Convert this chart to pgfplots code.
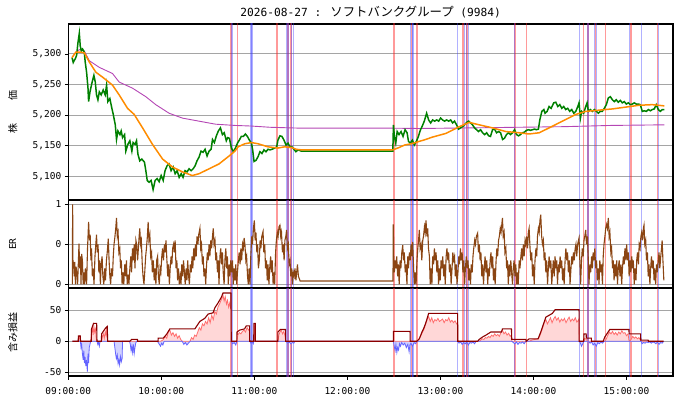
\documentclass[border=0pt]{standalone}
\usepackage{fontspec}
\setmainfont{DejaVu Sans Mono}
\setmonofont{DejaVu Sans Mono}
\newfontfamily\cjk{Noto Sans CJK JP}
\usepackage{pgfplots}
\pgfplotsset{compat=1.18}
\usepackage{pgfplotstable}

\definecolor{pgreen}{RGB}{0,128,0}
\definecolor{porange}{RGB}{255,140,0}
\definecolor{ppurple}{RGB}{180,70,180}
\definecolor{erbrown}{RGB}{139,69,19}
\definecolor{dred}{RGB}{139,0,0}
\definecolor{lred}{RGB}{255,110,110}
\definecolor{lpink}{RGB}{255,215,215}
\definecolor{lblue}{RGB}{100,100,255}
\definecolor{lbluefill}{RGB}{210,210,255}
\definecolor{gridgray}{RGB}{165,165,165}
\definecolor{vred}{RGB}{255,30,30}
\definecolor{vblue}{RGB}{60,60,255}

\pgfplotstableread[row sep=\\]{
t p\\
2.4 5294\\ 3.2 5286\\ 4.0 5290\\ 4.5 5292\\ 5.4 5298\\ 6.2 5318\\ 7.1 5334\\ 7.7 5313\\ 8.4 5305\\ 9.2 5308\\
10.3 5303\\ 10.9 5287\\ 11.8 5270\\ 12.7 5244\\ 13.1 5222\\ 14.0 5238\\ 15.2 5252\\ 16.5 5265\\ 17.4 5254\\ 18.2 5233\\
19.1 5225\\ 20.0 5238\\ 21.2 5233\\ 22.5 5241\\ 23.8 5233\\ 24.7 5249\\ 25.5 5222\\ 26.8 5227\\ 28.1 5211\\ 29.0 5201\\
30.3 5184\\ 31.1 5160\\ 32.0 5174\\ 33.3 5168\\ 34.1 5174\\ 35.0 5163\\ 36.3 5168\\ 37.1 5141\\ 38.4 5152\\ 39.7 5158\\
41.0 5141\\ 41.8 5155\\ 43.1 5152\\ 44.0 5158\\ 44.9 5136\\ 46.1 5125\\ 47.4 5128\\ 49.1 5123\\ 50.0 5109\\ 50.9 5093\\
52.1 5090\\ 53.4 5093\\ 54.7 5078\\ 56.0 5093\\ 57.3 5096\\ 58.6 5091\\ 59.9 5101\\ 61.2 5093\\ 62.4 5109\\ 63.7 5117\\
65.0 5120\\ 66.3 5109\\ 67.6 5115\\ 68.9 5104\\ 70.2 5109\\ 71.5 5098\\ 72.8 5104\\ 74.0 5098\\ 75.3 5109\\ 76.6 5107\\
77.9 5112\\ 79.2 5109\\ 80.5 5112\\ 81.8 5117\\ 83.0 5125\\ 84.3 5131\\ 85.6 5141\\ 86.9 5139\\ 88.2 5144\\ 89.5 5133\\
90.8 5141\\ 92.1 5144\\ 93.0 5160\\ 94.2 5155\\ 95.5 5166\\ 96.8 5174\\ 98.1 5179\\ 99.4 5168\\ 100.6 5171\\ 101.9 5158\\
102.8 5163\\ 103.9 5162\\ 105.2 5146\\ 106.5 5140\\ 107.8 5146\\ 109.1 5154\\ 110.3 5159\\ 111.6 5165\\ 112.9 5165\\ 114.2 5169\\
115.5 5165\\ 116.8 5159\\ 118.1 5154\\ 118.9 5143\\ 119.8 5124\\ 121.1 5126\\ 122.4 5132\\ 123.6 5140\\ 124.9 5137\\ 126.2 5143\\
127.5 5140\\ 128.8 5144\\ 130.1 5143\\ 131.4 5144\\ 133.1 5146\\ 134.4 5148\\ 135.2 5159\\ 136.5 5166\\ 137.8 5165\\ 139.1 5159\\
140.4 5151\\ 141.7 5154\\ 143.0 5148\\ 144.2 5148\\ 145.5 5144\\ 146.8 5140\\ 148.1 5143\\ 150.3 5141\\ 209.3 5141\\ 209.7 5184\\
210.3 5165\\ 211.2 5154\\ 212.1 5173\\ 213.3 5168\\ 214.6 5173\\ 215.9 5165\\ 217.2 5176\\ 218.5 5171\\ 219.4 5157\\ 220.6 5154\\
221.9 5159\\ 223.2 5151\\ 224.5 5157\\ 225.8 5165\\ 227.0 5175\\ 228.3 5182\\ 229.6 5190\\ 231.1 5203\\ 232.4 5192\\ 233.7 5187\\
235.0 5192\\ 236.3 5190\\ 237.6 5192\\ 238.9 5190\\ 240.1 5195\\ 241.4 5192\\ 242.7 5190\\ 244.0 5192\\ 245.3 5190\\ 246.6 5192\\
247.9 5187\\ 249.1 5190\\ 250.4 5184\\ 251.7 5177\\ 253.0 5179\\ 254.3 5181\\ 255.6 5184\\ 256.9 5188\\ 258.2 5190\\ 259.4 5187\\
260.7 5184\\ 262.0 5179\\ 263.3 5176\\ 264.6 5173\\ 265.9 5176\\ 267.2 5171\\ 268.5 5168\\ 269.8 5171\\ 271.1 5166\\ 272.3 5165\\
273.6 5176\\ 274.9 5177\\ 276.2 5171\\ 277.5 5173\\ 278.8 5171\\ 280.1 5160\\ 281.3 5162\\ 282.6 5168\\ 283.9 5171\\ 285.2 5168\\
286.5 5171\\ 287.8 5176\\ 289.1 5168\\ 290.4 5166\\ 291.6 5168\\ 292.9 5171\\ 294.2 5172\\ 295.5 5175\\ 296.8 5176\\ 298.1 5175\\
299.4 5176\\ 300.7 5177\\ 301.9 5176\\ 303.2 5177\\ 304.1 5192\\ 305.4 5206\\ 306.7 5209\\ 307.5 5203\\ 308.8 5206\\ 310.1 5214\\
311.4 5211\\ 313.1 5220\\ 314.4 5221\\ 315.7 5214\\ 317.0 5217\\ 318.3 5211\\ 319.5 5214\\ 320.8 5209\\ 322.1 5211\\ 323.4 5206\\
324.7 5209\\ 326.0 5203\\ 327.3 5206\\ 328.6 5214\\ 329.4 5220\\ 330.3 5195\\ 331.1 5206\\ 332.4 5203\\ 333.7 5214\\ 334.6 5220\\
335.4 5206\\ 336.7 5209\\ 338.0 5206\\ 339.3 5209\\ 340.6 5206\\ 341.9 5203\\ 343.1 5206\\ 344.4 5206\\ 345.7 5211\\ 347.0 5217\\
348.3 5228\\ 349.6 5230\\ 350.9 5225\\ 352.2 5222\\ 353.4 5225\\ 354.7 5221\\ 356.0 5224\\ 357.3 5220\\ 358.6 5222\\ 359.9 5218\\
361.2 5220\\ 362.5 5217\\ 363.8 5218\\ 365.0 5220\\ 366.3 5218\\ 367.6 5218\\ 368.9 5217\\ 370.2 5206\\ 371.5 5207\\ 372.8 5206\\
374.1 5209\\ 375.4 5207\\ 376.6 5209\\ 377.9 5210\\ 379.2 5217\\ 380.5 5209\\ 381.8 5206\\ 383.1 5209\\ 384.4 5209\\
}\price

\pgfplotstableread[row sep=\\]{
t p\\
2.4 5294\\ 4.9 5303\\ 7.5 5303\\ 10.3 5302\\ 13.5 5287\\ 17.8 5270\\ 22.1 5262\\ 28.5 5249\\ 32.8 5233\\ 38.2 5211\\
42.5 5201\\ 47.9 5179\\ 54.3 5152\\ 60.8 5128\\ 67.2 5115\\ 73.6 5107\\ 80.0 5101\\ 84.3 5104\\ 90.8 5112\\ 97.2 5120\\
103.7 5133\\ 107.5 5141\\ 109.5 5148\\ 113.8 5153\\ 118.1 5155\\ 122.4 5153\\ 128.8 5148\\ 135.2 5146\\ 139.5 5148\\ 143.8 5147\\
147.0 5144\\ 150.3 5143\\ 209.3 5143\\ 212.5 5146\\ 217.0 5151\\ 221.1 5153\\ 224.0 5155\\ 226.4 5157\\ 229.2 5159\\ 235.0 5164\\
243.6 5170\\ 252.2 5181\\ 258.6 5188\\ 265.0 5184\\ 273.6 5179\\ 282.2 5173\\ 290.8 5171\\ 297.2 5169\\ 303.7 5171\\ 310.1 5179\\
318.7 5190\\ 327.3 5201\\ 333.7 5206\\ 342.3 5208\\ 350.9 5210\\ 359.5 5213\\ 368.1 5216\\ 376.6 5217\\ 384.4 5215\\
}\ema

\pgfplotstableread[row sep=\\]{
t p\\
2.4 5294\\ 4.9 5303\\ 7.1 5307\\ 10.3 5305\\ 13.5 5289\\ 20.0 5278\\ 28.5 5268\\ 32.8 5254\\ 41.4 5244\\ 50.0 5230\\
56.4 5217\\ 65.0 5203\\ 73.6 5195\\ 84.3 5190\\ 95.1 5185\\ 107.5 5183\\ 118.1 5182\\ 130.0 5180\\ 150.3 5178.5\\ 209.3 5178.5\\
226.4 5178\\ 260.0 5179\\ 290.0 5180\\ 320.0 5181\\ 350.0 5183\\ 384.4 5184\\
}\vwap

\pgfplotstableread[row sep=\\]{
t e\\
2.6 0.0\\ 2.8 1.0\\ 3.0 0.3\\ 3.4 0.25\\ 3.8 0.1\\ 4.2 0.28\\ 4.6 0.0\\ 5.0 0.22\\ 5.5 0.15\\ 6.0 0.0\\
6.9 0.51\\ 7.3 0.2\\ 7.8 0.35\\ 8.2 0.0\\ 8.6 0.38\\ 9.1 0.3\\ 9.6 0.0\\ 10.0 0.15\\ 10.5 0.0\\ 11.0 0.2\\
11.8 0.0\\ 12.4 0.45\\ 13.1 0.78\\ 13.6 0.55\\ 14.1 0.62\\ 14.6 0.3\\ 15.0 0.45\\ 15.5 0.1\\ 16.0 0.2\\ 16.6 0.0\\
17.2 0.35\\ 18.2 0.62\\ 18.7 0.4\\ 19.2 0.5\\ 19.7 0.15\\ 20.2 0.3\\ 20.7 0.0\\ 21.2 0.25\\ 21.8 0.35\\ 22.3 0.1\\
22.9 0.0\\ 23.5 0.2\\ 24.0 0.05\\ 24.6 0.3\\ 25.2 0.42\\ 25.8 0.57\\ 26.3 0.3\\ 26.8 0.1\\ 27.3 0.0\\ 27.9 0.2\\
28.5 0.1\\ 29.0 0.35\\ 29.5 0.5\\ 30.1 0.6\\ 30.6 0.7\\ 31.1 0.83\\ 31.6 0.6\\ 32.1 0.65\\ 32.6 0.4\\ 33.2 0.45\\
33.7 0.2\\ 34.2 0.3\\ 34.7 0.0\\ 35.3 0.15\\ 35.8 0.0\\ 36.4 0.25\\ 37.0 0.1\\ 37.5 0.3\\ 38.0 0.0\\ 38.6 0.12\\
39.1 0.0\\ 39.7 0.2\\ 40.3 0.35\\ 40.8 0.15\\ 41.4 0.45\\ 42.0 0.3\\ 42.5 0.5\\ 43.0 0.2\\ 43.6 0.55\\ 44.1 0.5\\
44.7 0.3\\ 45.2 0.45\\ 45.7 0.6\\ 46.1 0.7\\ 46.6 0.5\\ 47.1 0.55\\ 47.7 0.25\\ 48.2 0.1\\ 48.8 0.0\\ 49.3 0.15\\
49.9 0.35\\ 50.4 0.45\\ 51.0 0.6\\ 51.5 0.78\\ 52.0 0.55\\ 52.6 0.62\\ 53.1 0.35\\ 53.7 0.4\\ 54.2 0.15\\ 54.8 0.3\\
55.4 0.05\\ 55.9 0.2\\ 56.5 0.0\\ 57.0 0.3\\ 57.6 0.35\\ 58.1 0.1\\ 58.7 0.0\\ 59.2 0.2\\ 59.7 0.15\\ 60.3 0.35\\
60.8 0.45\\ 61.4 0.3\\ 62.0 0.5\\ 62.5 0.4\\ 63.0 0.55\\ 63.6 0.3\\ 64.1 0.1\\ 64.6 0.25\\ 65.2 0.0\\ 65.7 0.2\\
66.3 0.35\\ 66.8 0.25\\ 67.3 0.45\\ 67.9 0.5\\ 68.4 0.4\\ 68.9 0.55\\ 69.5 0.2\\ 70.0 0.3\\ 70.5 0.05\\ 71.1 0.2\\
71.6 0.0\\ 72.2 0.1\\ 72.7 0.0\\ 73.2 0.25\\ 73.8 0.1\\ 74.3 0.3\\ 74.9 0.15\\ 75.4 0.0\\ 76.0 0.2\\ 76.5 0.05\\
77.0 0.3\\ 77.6 0.1\\ 78.1 0.0\\ 78.7 0.25\\ 79.3 0.15\\ 79.8 0.35\\ 80.3 0.2\\ 80.9 0.45\\ 81.4 0.3\\ 82.0 0.5\\
82.5 0.35\\ 83.0 0.6\\ 83.6 0.5\\ 84.1 0.62\\ 84.9 0.7\\ 85.4 0.45\\ 85.9 0.5\\ 86.5 0.25\\ 87.0 0.35\\ 87.5 0.1\\
88.1 0.2\\ 88.6 0.0\\ 89.2 0.25\\ 89.7 0.4\\ 90.2 0.3\\ 90.8 0.5\\ 91.3 0.35\\ 91.9 0.55\\ 92.4 0.45\\ 93.0 0.6\\
93.5 0.7\\ 94.0 0.5\\ 94.6 0.55\\ 95.1 0.3\\ 95.6 0.4\\ 96.2 0.15\\ 96.7 0.3\\ 97.2 0.0\\ 97.8 0.35\\ 98.3 0.45\\
98.9 0.25\\ 99.4 0.4\\ 99.9 0.15\\ 100.5 0.0\\ 101.0 0.3\\ 101.6 0.45\\ 102.1 0.2\\ 102.6 0.35\\ 103.2 0.0\\ 103.7 0.25\\
104.2 0.1\\ 104.8 0.3\\ 105.3 0.15\\ 105.9 0.3\\ 106.4 0.0\\ 107.0 0.2\\ 107.5 0.05\\ 108.0 0.25\\ 108.6 0.0\\ 109.1 0.15\\
109.7 0.3\\ 110.2 0.4\\ 110.8 0.25\\ 111.3 0.45\\ 111.8 0.3\\ 112.4 0.5\\ 112.9 0.45\\ 113.4 0.58\\ 113.9 0.5\\ 114.5 0.3\\
115.0 0.35\\ 115.6 0.1\\ 116.1 0.0\\ 116.6 0.2\\ 117.2 0.0\\ 117.7 0.35\\ 118.3 0.6\\ 118.8 0.5\\ 119.4 0.7\\ 120.0 0.8\\
120.5 0.55\\ 121.0 0.65\\ 121.6 0.4\\ 122.1 0.5\\ 122.6 0.2\\ 123.2 0.3\\ 123.7 0.55\\ 124.2 0.45\\ 124.8 0.6\\ 125.6 0.66\\
126.1 0.4\\ 126.7 0.5\\ 127.2 0.2\\ 127.8 0.3\\ 128.3 0.05\\ 128.8 0.25\\ 129.4 0.0\\ 129.9 0.2\\ 130.5 0.35\\ 131.0 0.15\\
131.5 0.3\\ 132.1 0.0\\ 132.6 0.15\\ 133.1 0.0\\ 133.7 0.4\\ 134.2 0.55\\ 134.8 0.65\\ 135.3 0.6\\ 135.9 0.72\\ 136.5 0.74\\
137.0 0.6\\ 137.5 0.65\\ 138.1 0.4\\ 138.6 0.5\\ 139.2 0.3\\ 139.7 0.55\\ 140.3 0.6\\ 140.8 0.68\\ 141.3 0.45\\ 141.9 0.5\\
142.4 0.25\\ 143.0 0.3\\ 143.5 0.1\\ 144.0 0.2\\ 144.6 0.0\\ 145.1 0.15\\ 145.7 0.1\\ 146.2 0.2\\ 146.8 0.05\\ 147.3 0.15\\
147.8 0.25\\ 148.4 0.1\\ 149.0 0.07\\ 149.5 0.042\\ 209.4 0.042\\ 209.6 0.75\\ 209.9 0.3\\ 210.3 0.15\\ 210.8 0.3\\ 211.3 0.2\\
211.8 0.35\\ 212.4 0.1\\ 212.9 0.25\\ 213.4 0.0\\ 214.0 0.3\\ 214.5 0.2\\ 215.1 0.4\\ 215.7 0.49\\ 216.2 0.3\\ 216.7 0.4\\
217.3 0.15\\ 217.8 0.25\\ 218.4 0.0\\ 218.9 0.35\\ 219.4 0.2\\ 220.0 0.4\\ 220.5 0.3\\ 221.1 0.5\\ 221.6 0.35\\ 222.1 0.53\\
222.7 0.2\\ 223.2 0.0\\ 223.8 0.15\\ 224.3 0.0\\ 224.9 0.3\\ 225.4 0.45\\ 225.9 0.55\\ 226.4 0.68\\ 226.9 0.45\\ 227.5 0.5\\
228.0 0.3\\ 228.6 0.55\\ 229.1 0.6\\ 229.7 0.72\\ 230.2 0.65\\ 230.7 0.8\\ 231.3 0.6\\ 231.8 0.7\\ 232.3 0.45\\ 232.9 0.35\\
233.4 0.0\\ 234.0 0.2\\ 234.5 0.0\\ 235.0 0.35\\ 235.6 0.25\\ 236.1 0.45\\ 236.7 0.3\\ 237.2 0.4\\ 237.7 0.15\\ 238.3 0.3\\
238.8 0.0\\ 239.4 0.2\\ 239.9 0.05\\ 240.4 0.3\\ 241.0 0.2\\ 241.5 0.35\\ 242.1 0.1\\ 242.6 0.25\\ 243.1 0.0\\ 243.7 0.35\\
244.2 0.45\\ 244.8 0.3\\ 245.3 0.4\\ 245.8 0.15\\ 246.4 0.25\\ 246.9 0.0\\ 247.5 0.2\\ 248.0 0.4\\ 248.5 0.3\\ 249.1 0.35\\
249.6 0.1\\ 250.2 0.25\\ 250.7 0.0\\ 251.3 0.15\\ 251.8 0.35\\ 252.3 0.25\\ 252.9 0.45\\ 253.4 0.3\\ 254.0 0.4\\ 254.5 0.15\\
255.0 0.3\\ 255.6 0.0\\ 256.1 0.2\\ 256.7 0.35\\ 257.2 0.2\\ 257.8 0.3\\ 258.3 0.05\\ 258.8 0.2\\ 259.4 0.0\\ 259.9 0.25\\
260.5 0.15\\ 261.0 0.35\\ 261.5 0.45\\ 262.1 0.55\\ 262.6 0.5\\ 263.2 0.6\\ 264.0 0.64\\ 264.5 0.4\\ 265.1 0.5\\ 265.6 0.3\\
266.1 0.4\\ 266.7 0.1\\ 267.2 0.25\\ 267.8 0.0\\ 268.3 0.2\\ 268.8 0.35\\ 269.4 0.15\\ 269.9 0.3\\ 270.5 0.0\\ 271.0 0.2\\
271.5 0.1\\ 272.1 0.3\\ 272.6 0.4\\ 273.2 0.2\\ 273.7 0.35\\ 274.2 0.05\\ 274.8 0.2\\ 275.3 0.0\\ 275.9 0.3\\ 276.4 0.45\\
276.9 0.35\\ 277.5 0.55\\ 278.0 0.6\\ 278.6 0.7\\ 279.1 0.65\\ 279.6 0.75\\ 280.0 0.83\\ 280.5 0.6\\ 281.1 0.65\\ 281.6 0.4\\
282.2 0.45\\ 282.7 0.2\\ 283.2 0.3\\ 283.8 0.0\\ 284.3 0.25\\ 284.8 0.1\\ 285.4 0.3\\ 285.9 0.15\\ 286.5 0.0\\ 287.0 0.2\\
287.5 0.3\\ 288.1 0.1\\ 288.6 0.25\\ 289.2 0.0\\ 289.7 0.15\\ 290.2 0.0\\ 290.8 0.3\\ 291.3 0.2\\ 291.9 0.35\\ 292.4 0.45\\
292.9 0.3\\ 293.5 0.5\\ 294.0 0.35\\ 294.6 0.55\\ 295.1 0.5\\ 295.6 0.6\\ 296.2 0.45\\ 296.7 0.65\\ 297.2 0.7\\ 297.8 0.45\\
298.3 0.3\\ 298.9 0.4\\ 299.4 0.1\\ 299.9 0.25\\ 300.5 0.0\\ 301.0 0.3\\ 301.6 0.45\\ 302.1 0.35\\ 302.6 0.6\\ 303.2 0.7\\
303.7 0.65\\ 304.2 0.8\\ 304.7 0.87\\ 305.3 0.6\\ 305.8 0.5\\ 306.4 0.55\\ 306.9 0.3\\ 307.4 0.4\\ 308.0 0.15\\ 308.5 0.3\\
309.1 0.0\\ 309.6 0.2\\ 310.1 0.35\\ 310.7 0.2\\ 311.2 0.3\\ 311.8 0.0\\ 312.3 0.15\\ 312.8 0.3\\ 313.4 0.1\\ 313.9 0.35\\
314.5 0.2\\ 315.0 0.3\\ 315.5 0.0\\ 316.1 0.25\\ 316.6 0.15\\ 317.2 0.35\\ 317.7 0.2\\ 318.2 0.3\\ 318.8 0.05\\ 319.3 0.2\\
319.8 0.0\\ 320.4 0.3\\ 320.9 0.45\\ 321.5 0.3\\ 322.0 0.4\\ 322.5 0.15\\ 323.1 0.3\\ 323.6 0.0\\ 324.2 0.2\\ 324.7 0.35\\
325.2 0.25\\ 325.8 0.4\\ 326.3 0.3\\ 326.9 0.45\\ 327.4 0.5\\ 327.9 0.35\\ 328.5 0.5\\ 329.4 0.58\\ 329.9 0.3\\ 330.4 0.0\\
331.0 0.3\\ 331.5 0.45\\ 332.1 0.35\\ 332.6 0.55\\ 333.1 0.6\\ 333.7 0.68\\ 334.2 0.5\\ 334.8 0.6\\ 335.3 0.35\\ 335.8 0.0\\
336.4 0.25\\ 336.9 0.15\\ 337.5 0.35\\ 338.0 0.2\\ 338.5 0.4\\ 339.1 0.3\\ 339.6 0.45\\ 340.1 0.2\\ 340.7 0.3\\ 341.2 0.05\\
341.8 0.2\\ 342.3 0.0\\ 342.8 0.3\\ 343.4 0.15\\ 343.9 0.25\\ 344.5 0.0\\ 345.0 0.35\\ 345.5 0.5\\ 346.1 0.6\\ 346.6 0.7\\
347.2 0.75\\ 347.7 0.7\\ 348.3 0.83\\ 348.8 0.6\\ 349.3 0.65\\ 349.9 0.4\\ 350.4 0.45\\ 351.0 0.2\\ 351.5 0.3\\ 352.0 0.05\\
352.6 0.25\\ 353.1 0.1\\ 353.7 0.3\\ 354.2 0.0\\ 354.7 0.2\\ 355.3 0.3\\ 355.8 0.1\\ 356.4 0.25\\ 356.9 0.0\\ 357.4 0.2\\
358.0 0.35\\ 358.5 0.25\\ 359.0 0.45\\ 359.6 0.3\\ 360.1 0.5\\ 360.7 0.3\\ 361.2 0.4\\ 361.7 0.1\\ 362.3 0.3\\ 362.8 0.15\\
363.4 0.35\\ 363.9 0.2\\ 364.4 0.3\\ 365.0 0.0\\ 365.5 0.2\\ 366.1 0.05\\ 366.6 0.3\\ 367.1 0.4\\ 367.7 0.25\\ 368.2 0.5\\
368.8 0.45\\ 369.3 0.6\\ 369.8 0.65\\ 370.4 0.55\\ 370.9 0.7\\ 371.3 0.74\\ 371.8 0.5\\ 372.4 0.55\\ 372.9 0.3\\ 373.5 0.4\\
374.0 0.1\\ 374.5 0.25\\ 375.1 0.0\\ 375.6 0.2\\ 376.1 0.35\\ 376.7 0.2\\ 377.2 0.3\\ 377.8 0.05\\ 378.3 0.2\\ 378.8 0.0\\
379.4 0.25\\ 379.9 0.15\\ 380.5 0.3\\ 381.0 0.4\\ 381.5 0.2\\ 382.1 0.35\\ 382.6 0.45\\ 383.0 0.55\\ 383.5 0.3\\ 384.1 0.05\\
}\er

\pgfplotstableread[row sep=\\]{
t v\\
2.6 0\\ 6.4 0\\ 6.5 8.6\\ 7.7 8.6\\ 7.9 0\\ 14.8 0\\ 15.0 20\\ 16.3 29\\ 18.3 29\\ 18.5 0\\
21.3 0\\ 21.5 12\\ 23.6 20\\ 25.1 24\\ 25.4 0\\ 39.7 0\\ 40.8 3\\ 44.6 3\\ 44.7 0\\ 57.9 0\\
58.0 5\\ 61.2 5\\ 63.3 11\\ 65.5 20\\ 81.6 20\\ 84.8 32\\ 88.0 37\\ 90.2 44\\ 93.4 46\\ 94.5 54\\
96.6 62\\ 98.7 71\\ 99.8 78\\ 104.9 78\\ 105.1 0\\ 108.7 0\\ 108.8 15\\ 110.5 18\\ 113.7 20\\ 114.8 25\\
116.9 25\\ 117.0 0\\ 119.6 0\\ 119.7 29\\ 120.6 29\\ 120.7 0\\ 135.1 0\\ 135.2 15\\ 136.7 19\\ 140.1 19\\
140.2 0\\ 209.6 0\\ 209.7 16\\ 220.4 16\\ 220.5 0\\ 224.7 0\\ 226.4 4\\ 228.1 15\\ 229.6 23\\ 231.1 34\\
232.4 45\\ 251.1 45\\ 251.2 0\\ 264.0 0\\ 265.0 3\\ 267.2 7\\ 269.4 10\\ 272.5 15\\ 279.4 15\\ 280.0 20\\
285.8 20\\ 286.0 3\\ 295.1 3\\ 295.3 0\\ 297.2 4\\ 303.0 4\\ 304.7 15\\ 306.2 26\\ 308.0 39\\ 312.2 45\\
314.0 51\\ 329.4 51\\ 329.5 0\\ 332.4 0\\ 332.6 12\\ 334.0 12\\ 334.1 5\\ 337.3 5\\ 337.4 0\\ 345.0 0\\
346.0 7\\ 349.2 19\\ 361.6 19\\ 361.7 12\\ 369.1 12\\ 369.2 2\\ 374.0 2\\ 374.1 0\\ 384.0 0\\
}\pnlmax

\pgfplotstableread[row sep=\\]{
t v\\
2.6 0\\ 6.5 0\\ 6.7 5\\ 7.2 8\\ 7.7 0\\ 14.5 0\\ 15.0 15\\ 15.6 22\\ 16.0 10\\ 16.5 25\\
17.0 15\\ 17.6 20\\ 18.0 5\\ 18.3 0\\ 21.5 0\\ 22.0 8\\ 22.6 12\\ 23.2 5\\ 23.8 16\\ 24.3 10\\
24.8 20\\ 25.2 5\\ 25.4 0\\ 59.5 0\\ 61.0 2\\ 62.5 8\\ 63.5 5\\ 64.5 15\\ 65.5 18\\ 66.5 10\\
67.5 14\\ 68.5 8\\ 69.5 12\\ 70.5 5\\ 71.5 9\\ 72.5 3\\ 73.5 0\\ 78.5 0\\ 79.5 6\\ 80.5 3\\
81.5 10\\ 82.5 8\\ 83.5 15\\ 84.5 22\\ 85.5 18\\ 86.5 28\\ 87.5 25\\ 88.5 32\\ 89.5 28\\ 90.5 38\\
91.5 30\\ 92.5 42\\ 93.5 35\\ 94.5 48\\ 95.5 44\\ 96.5 55\\ 97.5 60\\ 98.5 66\\ 99.2 70\\ 99.8 74\\
100.5 65\\ 101.2 72\\ 102.0 60\\ 102.7 66\\ 103.4 55\\ 104.1 62\\ 104.9 50\\ 105.1 0\\ 108.8 0\\ 109.3 10\\
110.3 14\\ 111.3 12\\ 112.3 16\\ 113.3 18\\ 114.3 15\\ 115.3 22\\ 116.3 18\\ 116.9 20\\ 117.0 0\\ 119.7 0\\
120.0 25\\ 120.5 20\\ 120.7 0\\ 135.2 0\\ 135.8 10\\ 136.5 15\\ 137.3 18\\ 138.2 12\\ 139.0 16\\ 139.8 8\\
140.2 0\\ 224.7 0\\ 226.0 3\\ 227.5 10\\ 228.5 15\\ 229.5 20\\ 230.5 28\\ 231.5 36\\ 232.4 40\\ 233.4 32\\
234.4 38\\ 235.4 30\\ 236.4 35\\ 237.4 33\\ 238.4 37\\ 239.4 32\\ 240.4 34\\ 241.4 36\\ 242.4 30\\ 243.4 35\\
244.4 33\\ 245.4 38\\ 246.4 31\\ 247.4 34\\ 248.4 30\\ 249.4 33\\ 250.4 28\\ 251.1 30\\ 251.2 0\\ 265.0 0\\
266.0 2\\ 267.0 4\\ 268.0 3\\ 269.0 6\\ 270.0 5\\ 271.0 8\\ 272.0 6\\ 273.0 10\\ 274.0 8\\ 275.0 12\\
276.0 9\\ 277.0 11\\ 278.0 8\\ 279.0 14\\ 280.0 18\\ 281.0 12\\ 282.0 15\\ 283.0 10\\ 284.0 13\\ 285.0 8\\
285.8 10\\ 286.0 0\\ 297.2 0\\ 299.0 2\\ 301.0 3\\ 303.0 4\\ 304.0 8\\ 305.0 15\\ 306.0 22\\ 307.0 30\\
308.0 35\\ 309.0 28\\ 310.0 33\\ 311.0 38\\ 312.0 30\\ 313.0 36\\ 314.0 40\\ 315.0 34\\ 316.0 38\\ 317.0 31\\
318.0 36\\ 319.0 33\\ 320.0 37\\ 321.0 30\\ 322.0 35\\ 323.0 39\\ 324.0 32\\ 325.0 36\\ 326.0 33\\ 327.0 38\\
328.0 31\\ 329.0 34\\ 329.4 36\\ 329.5 0\\ 332.6 0\\ 333.0 5\\ 334.0 3\\ 335.0 0\\ 346.0 0\\ 347.0 4\\
348.0 10\\ 349.0 15\\ 350.0 12\\ 351.0 16\\ 352.0 11\\ 353.0 14\\ 354.0 10\\ 355.0 15\\ 356.0 12\\ 357.0 17\\
358.0 13\\ 359.0 14\\ 360.0 9\\ 361.0 12\\ 361.7 0\\ 362.0 0\\ 363.0 3\\ 364.0 8\\ 365.0 5\\ 366.0 7\\
367.0 4\\ 368.0 6\\ 369.0 2\\ 369.5 0\\ 384.0 0\\
}\pnlpos

\pgfplotstableread[row sep=\\]{
t v\\
2.6 0\\ 7.8 0\\ 8.2 -10\\ 8.6 -5\\ 9.1 -20\\ 9.6 -30\\ 10.0 -15\\ 10.4 -35\\ 10.8 -25\\ 11.3 -40\\
11.7 -30\\ 12.3 -49\\ 12.7 -20\\ 13.1 -35\\ 13.5 -10\\ 14.0 -5\\ 14.4 0\\ 18.6 0\\ 19.0 -5\\ 19.5 -2\\
20.0 -8\\ 20.5 0\\ 29.5 0\\ 30.0 -10\\ 30.5 -20\\ 31.0 -28\\ 31.6 -22\\ 32.1 -36\\ 32.6 -30\\ 33.1 -38\\
33.6 -25\\ 34.2 -33\\ 34.7 -28\\ 35.0 0\\ 39.5 0\\ 40.0 -5\\ 40.5 -15\\ 41.0 -8\\ 41.5 -18\\ 42.0 -5\\
42.5 -20\\ 43.0 -10\\ 43.5 -3\\ 44.0 0\\ 57.5 0\\ 58.5 -4\\ 59.5 -8\\ 60.2 -3\\ 61.0 -6\\ 61.8 0\\
73.5 0\\ 74.5 -5\\ 75.5 -2\\ 76.5 -6\\ 77.5 -3\\ 78.5 0\\ 105.2 0\\ 106.0 -4\\ 107.0 -2\\ 108.0 -6\\
108.7 0\\ 117.1 0\\ 117.8 -3\\ 118.5 -1\\ 119.3 -4\\ 119.6 0\\ 140.5 0\\ 141.5 -3\\ 142.5 -1\\ 143.5 -4\\
144.5 -2\\ 145.5 -3\\ 146.0 0\\ 209.7 0\\ 210.2 -8\\ 210.8 -15\\ 211.3 -5\\ 211.9 -18\\ 212.4 -10\\ 213.0 -14\\
213.6 -4\\ 214.2 -8\\ 215.0 -2\\ 216.0 -6\\ 217.0 -3\\ 218.0 -10\\ 219.0 -5\\ 219.8 -17\\ 220.3 -6\\ 221.0 -3\\
222.0 -8\\ 223.0 -2\\ 224.0 -4\\ 224.7 0\\ 251.3 0\\ 252.0 -3\\ 253.0 -1\\ 254.0 -5\\ 255.0 -2\\ 256.0 -4\\
257.0 -1\\ 258.0 -6\\ 259.0 -2\\ 260.0 -3\\ 261.0 -1\\ 262.0 -4\\ 263.0 0\\ 286.2 0\\ 287.0 -2\\ 288.0 -4\\
289.0 -1\\ 290.0 -5\\ 291.0 -2\\ 292.0 -3\\ 293.0 -1\\ 294.0 -4\\ 295.0 0\\ 329.6 0\\ 330.3 -3\\ 331.0 -8\\
331.8 -4\\ 332.5 0\\ 335.5 0\\ 336.5 -3\\ 337.5 -1\\ 338.5 -6\\ 339.5 -3\\ 340.5 -8\\ 341.5 -2\\ 342.5 -4\\
343.5 -1\\ 344.5 -3\\ 345.5 0\\ 369.5 0\\ 370.0 -4\\ 371.0 -2\\ 372.0 -3\\ 373.0 -1\\ 374.0 -2\\ 375.0 -1\\
376.0 -3\\ 377.0 -1\\ 378.0 -2\\ 379.0 -4\\ 380.0 -1\\ 381.0 -5\\ 382.0 -2\\ 383.0 -3\\ 384.0 0\\
}\pnlneg

\newcommand{\vlines}[2]{%
  \pgfplotsinvokeforeach{105.1,109.1,134.6,141.6,143.7,209.9,221.3,224.7,254.6,257.3,288.0,295.5,332.2,335.2,340.0,346.4,362.9,380.1}{%
    \addplot[vred, opacity=0.45, line width=1.6pt, forget plot] coordinates {(##1,#1) (##1,#2)};}%
  \pgfplotsinvokeforeach{105.7,117.9,118.5,141.1,142.1,143.9,145.3,220.8,221.8,222.2,251.1,255.6,256.7,258.0,287.8,329.6,335.2,339.4,340.7,362.1,369.5,380.5}{%
    \addplot[vblue, opacity=0.4, line width=1.4pt, forget plot] coordinates {(##1,#1) (##1,#2)};}%
}

\pgfplotsset{
  panel/.style={
    scale only axis, width=604.7pt, xmin=0, xmax=390,
    axis line style={line width=1.3pt},
    ymajorgrids, major grid style={gridgray, line width=0.9pt},
    tick align=outside, xtick pos=bottom, ytick pos=left,
    major tick length=3.5pt, tick style={black, line width=0.8pt},
    ticklabel style={font=\fontsize{9.5}{11}\selectfont},
    xticklabel style={yshift=-4.5pt},
    every axis y label/.style={at={(rel axis cs:0,0.5)}, xshift=-55.6pt, rotate=90, anchor=center},
    anchor=south west,
  },
}

\begin{document}
\begin{tikzpicture}[x=1pt,y=1pt]
\useasboundingbox (0,0) rectangle (680,400);

\begin{axis}[panel, at={(68.3pt,200pt)}, height=176pt,
  ymin=5061, ymax=5349, ytick={5100,5150,5200,5250,5300},
  yticklabels={{5,100},{5,150},{5,200},{5,250},{5,300}},
  xtick=\empty,
  ylabel={\cjk\fontsize{10}{12}\selectfont 株\hspace{24pt}価}]
\vlines{4000}{6000}
\addplot[ppurple, line width=0.9pt] table[x=t,y=p] {\vwap};
\addplot[pgreen, line width=1.5pt] table[x=t,y=p] {\price};
\addplot[porange, line width=1.5pt] table[x=t,y=p] {\ema};
\end{axis}

\begin{axis}[panel, at={(68.3pt,112pt)}, height=88pt,
  ymin=-0.046, ymax=1.054, ytick={0,0.5,1}, yticklabels={0,0,1},
  xtick=\empty,
  ylabel={\fontsize{9.5}{11}\selectfont ER}]
\vlines{-1}{2}
\addplot[erbrown, line width=1.1pt] table[x=t,y=e] {\er};
\end{axis}

\begin{axis}[panel, at={(68.3pt,24pt)}, height=88pt,
  ymin=-56, ymax=86, ytick={-50,0,50}, yticklabels={-50,0,50},
  xtick={0,60,120,180,240,300,360},
  xticklabels={09:00:00,10:00:00,11:00:00,12:00:00,13:00:00,14:00:00,15:00:00},
  ylabel={\cjk\fontsize{10}{12}\selectfont 含み損益}]
\vlines{-200}{200}
\addplot[draw=none, fill=lpink] table[x=t,y=v] {\pnlpos} \closedcycle;
\addplot[draw=none, fill=lbluefill] table[x=t,y=v] {\pnlneg} \closedcycle;
\addplot[lred, line width=0.8pt] table[x=t,y=v] {\pnlpos};
\addplot[lblue, line width=0.8pt] table[x=t,y=v] {\pnlneg};
\addplot[dred, line width=1.1pt] table[x=t,y=v] {\pnlmax};
\end{axis}

\node[font=\fontsize{11.2}{13}\selectfont, anchor=center] at (370.7,388) {2026-08-27 : {\cjk\fontsize{12.4}{13}\selectfont ソフトバンクグループ} (9984)};
\end{tikzpicture}
\end{document}
